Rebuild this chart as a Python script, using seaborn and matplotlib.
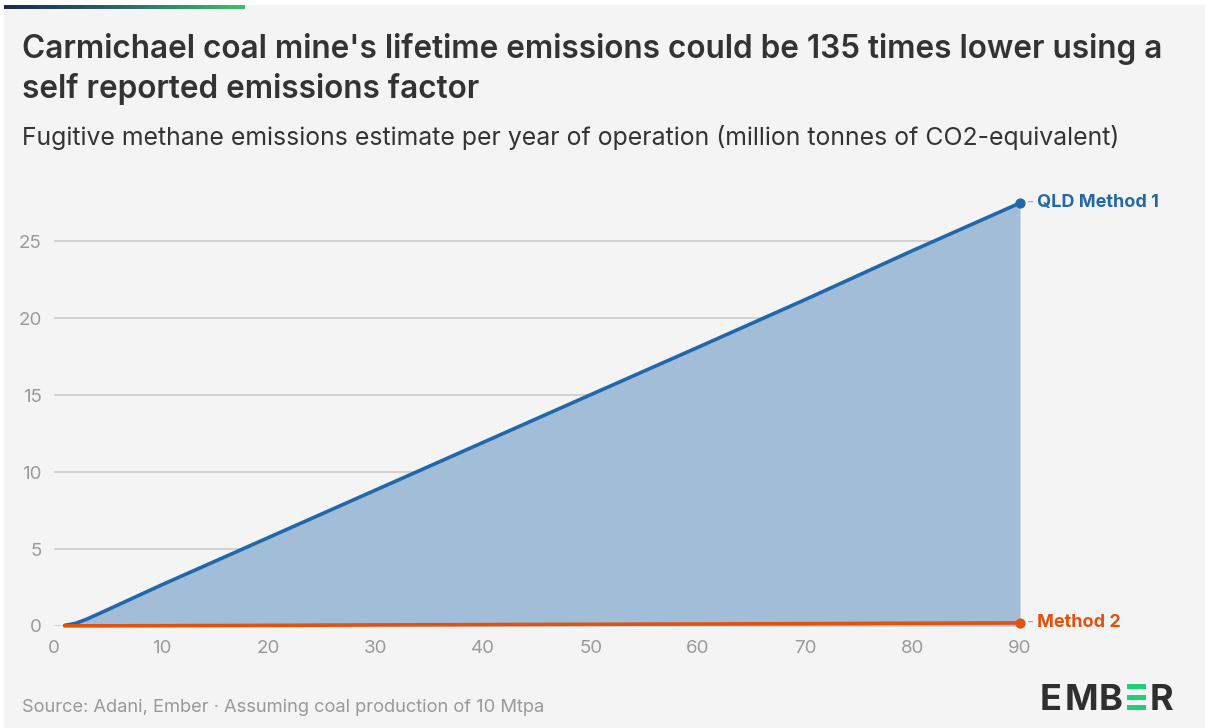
import matplotlib
matplotlib.use("Agg")
import matplotlib.pyplot as plt
import seaborn as sns
import numpy as np
import pandas as pd
from matplotlib.patches import Rectangle
from matplotlib.colors import LinearSegmentedColormap

# ---- data ----
years = [1, 2, 3, 4, 5, 10, 20, 30, 40, 50, 60, 70, 80, 90]
qld_method1 = [0.04, 0.17, 0.43, 0.74, 1.06, 2.66, 5.75, 8.84, 11.93, 15.02, 18.1, 21.2, 24.38, 27.47]
method2 = [0.01, 0.01, 0.01, 0.01, 0.01, 0.02, 0.04, 0.07, 0.09, 0.11, 0.13, 0.15, 0.18, 0.2]
x_ticks = [0, 10, 20, 30, 40, 50, 60, 70, 80, 90]
y_ticks = [0, 5, 10, 15, 20, 25]
series_names = ["QLD Method 1", "Method 2"]

title_lines = ["Carmichael coal mine's lifetime emissions could be 135 times lower using a",
               "self reported emissions factor"]
subtitle = "Fugitive methane emissions estimate per year of operation (million tonnes of CO2-equivalent)"
source = "Source: Adani, Ember \u00b7 Assuming coal production of 10 Mtpa"

BLUE = "#2267a9"
FILL = "#a1bdd8"
ORANGE = "#e2520c"
BG = "#f4f4f4"
GRID = "#cccccc"
TICK = "#9a9a9a"
DARK = "#333333"

sns.set_theme(style="white")
plt.rcParams['font.family'] = ['Inter', 'DejaVu Sans']

W, H = 1205, 728
fig = plt.figure(figsize=(W / 100, H / 100), dpi=100)
fig.patch.set_facecolor("white")

def fx(x):
    return x / W

def fy(y):
    return 1 - y / H

# background panel
fig.patches.append(Rectangle((fx(4), 0), 1 - fx(4), fy(5), transform=fig.transFigure,
                             facecolor=BG, edgecolor="none", zorder=-10))
# gradient top bar
grad_ax = fig.add_axes([fx(4), fy(9), fx(241), fy(5) - fy(9)])
cmap = LinearSegmentedColormap.from_list("g", ["#1b2850", "#2d6a6a", "#40bf6c"])
grad_ax.imshow(np.linspace(0, 1, 256)[None, :], aspect="auto", cmap=cmap)
grad_ax.axis("off")

# main axes: x 0->54px, 90->1020px; y 0->626px
L, R, B, T = 54, 1020, 626, 203
ymax = 27.47
ax = fig.add_axes([fx(L), fy(B), fx(R - L), fy(T) - fy(B)])
ax.set_facecolor(BG)

df = pd.DataFrame({
    "year": years * 2,
    "value": qld_method1 + method2,
    "series": [series_names[0]] * len(years) + [series_names[1]] * len(years),
})

ax.fill_between(years, 0, qld_method1, color=FILL, lw=0, zorder=1)
sns.lineplot(data=df, x="year", y="value", hue="series",
             palette={series_names[0]: BLUE, series_names[1]: ORANGE},
             linewidth=2.6, legend=False, ax=ax, zorder=3)
for ln in ax.lines:
    ln.set_clip_on(False)
    ln.set_solid_capstyle("round")
    ln.set_solid_joinstyle("round")

ax.scatter([years[-1]], [qld_method1[-1]], s=40, color=BLUE, zorder=4, clip_on=False)
ax.scatter([years[-1]], [method2[-1]], s=40, color=ORANGE, zorder=4, clip_on=False)

ax.set_xlim(0, 90)
ax.set_ylim(0, ymax)
ax.set_xticks(x_ticks)
ax.set_yticks(y_ticks)
ax.set_xticklabels([str(t) for t in x_ticks])
ax.set_yticklabels([str(t) for t in y_ticks])
ax.yaxis.grid(True, color=GRID, linewidth=1.2, zorder=0)
ax.xaxis.grid(False)
for s in ax.spines.values():
    s.set_visible(False)
ax.tick_params(axis="x", colors=TICK, length=5, width=1.2, labelsize=13.5, pad=5, direction="out")
ax.tick_params(axis="y", colors=TICK, length=0, labelsize=13.5, pad=9)
for lab in ax.get_xticklabels() + ax.get_yticklabels():
    lab.set_color(TICK)
ax.set_xlabel("")
ax.set_ylabel("")

# end labels
end_y = [qld_method1[-1], method2[-1]]
end_c = [BLUE, ORANGE]
for name, yv, c in zip(series_names, end_y, end_c):
    ax.annotate("-", xy=(90, yv), xytext=(5, 0.5), textcoords="offset points",
                ha="left", va="center", color="#aaaaaa", fontsize=11, annotation_clip=False)
    ax.annotate(name, xy=(90, yv), xytext=(12.5, 0), textcoords="offset points",
                ha="left", va="center", color=c, fontsize=13, fontweight="bold",
                annotation_clip=False)

# titles
fig.text(fx(22), fy(58), title_lines[0], ha="left", va="baseline", fontsize=22.7,
         fontweight="semibold", color=DARK)
fig.text(fx(22), fy(98), title_lines[1], ha="left", va="baseline", fontsize=22.7,
         fontweight="semibold", color=DARK)
fig.text(fx(22), fy(145), subtitle, ha="left", va="baseline", fontsize=17.85, color=DARK)
fig.text(fx(22), fy(712), source, ha="left", va="baseline", fontsize=13.2, color="#999999")

# EMBER logo
for ch, cx in zip(["E", "M", "B", "R"], [1051, 1081, 1111, 1161]):
    fig.text(fx(cx), fy(710), ch, ha="center", va="baseline", fontsize=26, fontweight="bold",
             color="#2f2f2f")
for yb in [684, 695, 705]:
    fig.patches.append(Rectangle((fx(1127), fy(yb + 5)), fx(19), fy(yb) - fy(yb + 5),
                                 transform=fig.transFigure, facecolor="#1fd07a",
                                 edgecolor="none"))

fig.savefig("out.png", dpi=100, facecolor=fig.get_facecolor())
